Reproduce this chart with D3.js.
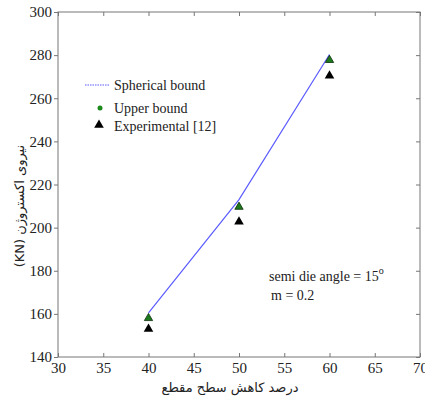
<!DOCTYPE html>
<html>
<head>
<meta charset="utf-8">
<script src="https://cdn.jsdelivr.net/npm/d3@7"></script>
<style>
  body { margin: 0; background: #fff; }
  svg text { font-family: "Liberation Serif", "Times New Roman", serif !important; fill: #222; }
  svg text.fa { font-family: "DejaVu Sans", "Noto Sans", sans-serif !important; }
</style>
</head>
<body>
<svg id="chart" width="425" height="400"></svg>
<script>
// values
const reduction = [40, 50, 60];
const spherical = [160.5, 213, 280.3];
const upperBound = [158, 209.6, 277.7];
const experimental = [153, 202.7, 270.4];
const xTicks = [30, 35, 40, 45, 50, 55, 60, 65, 70];
const yTicks = [140, 160, 180, 200, 220, 240, 260, 280, 300];

const margin = { top: 12, right: 5, bottom: 43, left: 58 };
const width = 425, height = 400;

const svg = d3.select('#chart');

const x = d3.scaleLinear().domain([30, 70]).range([margin.left, width - margin.right]);
const y = d3.scaleLinear().domain([140, 300]).range([height - margin.bottom, margin.top]);

// frame
svg.append('rect')
    .attr('x', x(30)).attr('y', y(300))
    .attr('width', x(70) - x(30)).attr('height', y(140) - y(300))
    .attr('fill', 'none').attr('stroke', '#777').attr('stroke-width', 1);

// axes with inward ticks on all four sides
const axisStyle = g => {
    g.attr('font-family', null);
    g.select('.domain').remove();
    g.selectAll('line').attr('stroke', '#777');
    g.selectAll('text').style('font-size', '15px').attr('fill', '#222');
};

svg.append('g')
    .attr('transform', `translate(0,${y(140)})`)
    .call(d3.axisBottom(x).tickValues(xTicks).tickSizeInner(-4).tickSizeOuter(0).tickPadding(5))
    .call(axisStyle);
svg.append('g')
    .attr('transform', `translate(0,${y(300)})`)
    .call(d3.axisTop(x).tickValues(xTicks).tickSizeInner(-4).tickSizeOuter(0).tickFormat(''))
    .call(axisStyle);
svg.append('g')
    .attr('transform', `translate(${x(30)},0)`)
    .call(d3.axisLeft(y).tickValues(yTicks).tickSizeInner(4).tickSizeOuter(0).tickPadding(2))
    .call(axisStyle);
svg.append('g')
    .attr('transform', `translate(${x(70)},0)`)
    .call(d3.axisRight(y).tickValues(yTicks).tickSizeInner(-4).tickSizeOuter(0).tickFormat(''))
    .call(axisStyle);

// spherical bound line
const line = d3.line().x((d, i) => x(reduction[i])).y(d => y(d));
svg.append('path')
    .datum(spherical)
    .attr('d', line)
    .attr('fill', 'none')
    .attr('stroke', '#5a5aff')
    .attr('stroke-width', 1.2);

const tri = d3.symbol().type(d3.symbolTriangle).size(40);

// experimental triangles
svg.selectAll('.exp')
    .data(experimental)
    .enter().append('path')
    .attr('class', 'exp')
    .attr('d', tri)
    .attr('transform', (d, i) => `translate(${x(reduction[i])},${y(d)})`)
    .attr('fill', '#000');

// upper bound markers
svg.selectAll('.ub')
    .data(upperBound)
    .enter().append('path')
    .attr('class', 'ub')
    .attr('d', d3.symbol().type(d3.symbolTriangle).size(30))
    .attr('transform', (d, i) => `translate(${x(reduction[i])},${y(d)})`)
    .attr('fill', '#1d7a1d')
    .attr('stroke', '#0d2d0d')
    .attr('stroke-width', 0.8);

// legend
const legend = svg.append('g');
legend.append('line')
    .attr('x1', 85).attr('x2', 109).attr('y1', 85).attr('y2', 85)
    .attr('stroke', '#5a5aff').attr('stroke-width', 1.2).attr('stroke-dasharray', '1.5,1');
legend.append('text').attr('x', 114).attr('y', 90).style('font-size', '14px').text('Spherical bound');
legend.append('circle').attr('cx', 100).attr('cy', 108).attr('r', 2.5).attr('fill', '#1d8a1d');
legend.append('text').attr('x', 114).attr('y', 113).style('font-size', '14px').text('Upper bound');
legend.append('path').attr('d', tri).attr('transform', 'translate(99,125)').attr('fill', '#000');
legend.append('text').attr('x', 114).attr('y', 131).style('font-size', '14px').text('Experimental [12]');

// annotation
const note = svg.append('text').attr('x', 269).attr('y', 281).style('font-size', '14px');
note.append('tspan').text('semi die angle = 15');
note.append('tspan').attr('dy', -7).style('font-size', '10px').text('o');
svg.append('text').attr('x', 271).attr('y', 300).style('font-size', '14px').text('m = 0.2');

// axis titles
svg.append('text')
    .attr('class', 'fa')
    .attr('x', 230).attr('y', 392)
    .attr('text-anchor', 'middle')
    .attr('direction', 'rtl')
    .style('font-size', '13px')
    .text('درصد کاهش سطح مقطع');

svg.append('text')
    .attr('class', 'fa')
    .attr('transform', `translate(24,${y(210)}) rotate(-90)`)
    .attr('text-anchor', 'middle')
    .attr('direction', 'rtl')
    .style('font-size', '13px')
    .text('نیروی اکستروژن (KN)');
</script>
</body>
</html>
